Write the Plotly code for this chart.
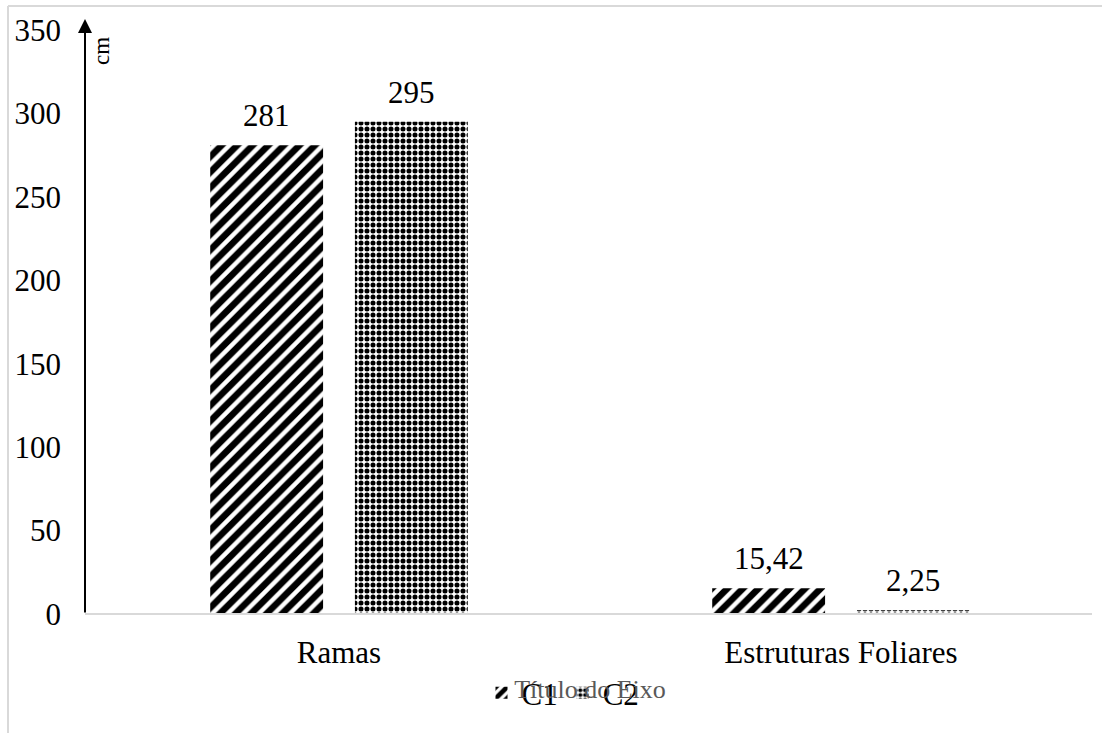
import plotly.graph_objects as go

categories = ["Ramas", "Estruturas Foliares"]
c1_values = [281, 15.42]
c2_values = [295, 2.25]
y_ticks = [0, 50, 100, 150, 200, 250, 300, 350]

W, H = 1102, 733
ML, MR, MT, MB = 88, 10, 30, 119
FONT = "Liberation Serif, Times New Roman, serif"
FS = 31
BARGAP, GROUPGAP = 0.4235, 0.22


def fmt(v):
    return f"{v:g}".replace(".", ",")


fig = go.Figure()
fig.add_bar(
    name="C1", x=categories, y=c1_values,
    marker=dict(color="white", line=dict(width=0),
                pattern=dict(shape="/", fgcolor="black", bgcolor="white",
                             fgopacity=1, fillmode="replace",
                             size=11, solidity=0.6)),
)
fig.add_bar(
    name="C2", x=categories, y=c2_values,
    marker=dict(color="white", line=dict(width=0),
                pattern=dict(shape=".", fgcolor="black", bgcolor="white",
                             fgopacity=1, fillmode="replace",
                             size=6, solidity=0.55)),
)

pw = W - ML - MR
ph = H - MT - MB
axis_bottom = H - MB


def px_x(p):
    return (p - ML) / pw


def px_y(p):
    return (axis_bottom - p) / ph


# horizontal offset of each bar in a group, in pixels
cat_px = pw / len(categories)
slot_px = cat_px * (1 - BARGAP) / 2
offsets = [-slot_px / 2, slot_px / 2]

annotations = []
for series, dx in ((c1_values, offsets[0]), (c2_values, offsets[1])):
    for cat, v in zip(categories, series):
        annotations.append(dict(
            x=cat, y=v, xref="x", yref="y", text=fmt(v), showarrow=False,
            xshift=dx, yshift=10, yanchor="bottom", xanchor="center",
            font=dict(family=FONT, size=FS, color="black")))

arrow_x, arrow_tip = 85, 19
annotations += [
    # vertical axis drawn as an arrow
    dict(xref="paper", yref="paper", x=px_x(arrow_x), y=px_y(arrow_tip),
         axref="pixel", ax=0, ayref="pixel", ay=axis_bottom - arrow_tip,
         showarrow=True, arrowhead=2, arrowsize=1.4, arrowwidth=2,
         arrowcolor="black", text=""),
    dict(xref="paper", yref="paper", x=px_x(102), y=px_y(51), text="cm",
         textangle=-90, showarrow=False, xanchor="center", yanchor="middle",
         font=dict(family=FONT, size=23, color="black")),
]

shapes = [
    # outer chart frame (top and left edges)
    dict(type="line", xref="paper", yref="paper", x0=px_x(8), x1=px_x(W + 5),
         y0=px_y(6), y1=px_y(6), line=dict(color="#d9d9d9", width=2)),
    dict(type="line", xref="paper", yref="paper", x0=px_x(8), x1=px_x(8),
         y0=px_y(6), y1=px_y(H + 5), line=dict(color="#d9d9d9", width=2)),
    # category axis line
    dict(type="line", xref="paper", yref="paper", x0=px_x(arrow_x), x1=1,
         y0=0, y1=0, line=dict(color="#d9d9d9", width=2)),
]

fig.update_layout(
    width=W, height=H,
    margin=dict(l=ML, r=MR, t=MT, b=MB),
    paper_bgcolor="white", plot_bgcolor="white",
    font=dict(family=FONT, size=FS, color="black"),
    barmode="group", bargap=BARGAP, bargroupgap=GROUPGAP,
    showlegend=True,
    legend=dict(orientation="h", x=px_x(563), xanchor="center",
                y=px_y(693), yanchor="middle",
                font=dict(family=FONT, size=FS, color="black"),
                bgcolor="rgba(0,0,0,0)"),
    shapes=shapes, annotations=annotations,
    xaxis=dict(showline=False, ticks="", showgrid=False,
               ticklabelstandoff=17,
               title=dict(text="Título do Eixo", standoff=10,
                          font=dict(family=FONT, size=26, color="#595959"))),
    yaxis=dict(range=[0, 350], tickvals=y_ticks, showgrid=False,
               zeroline=False, showline=False, ticks="",
               ticklabelstandoff=26),
)

fig.write_html("out.html")
